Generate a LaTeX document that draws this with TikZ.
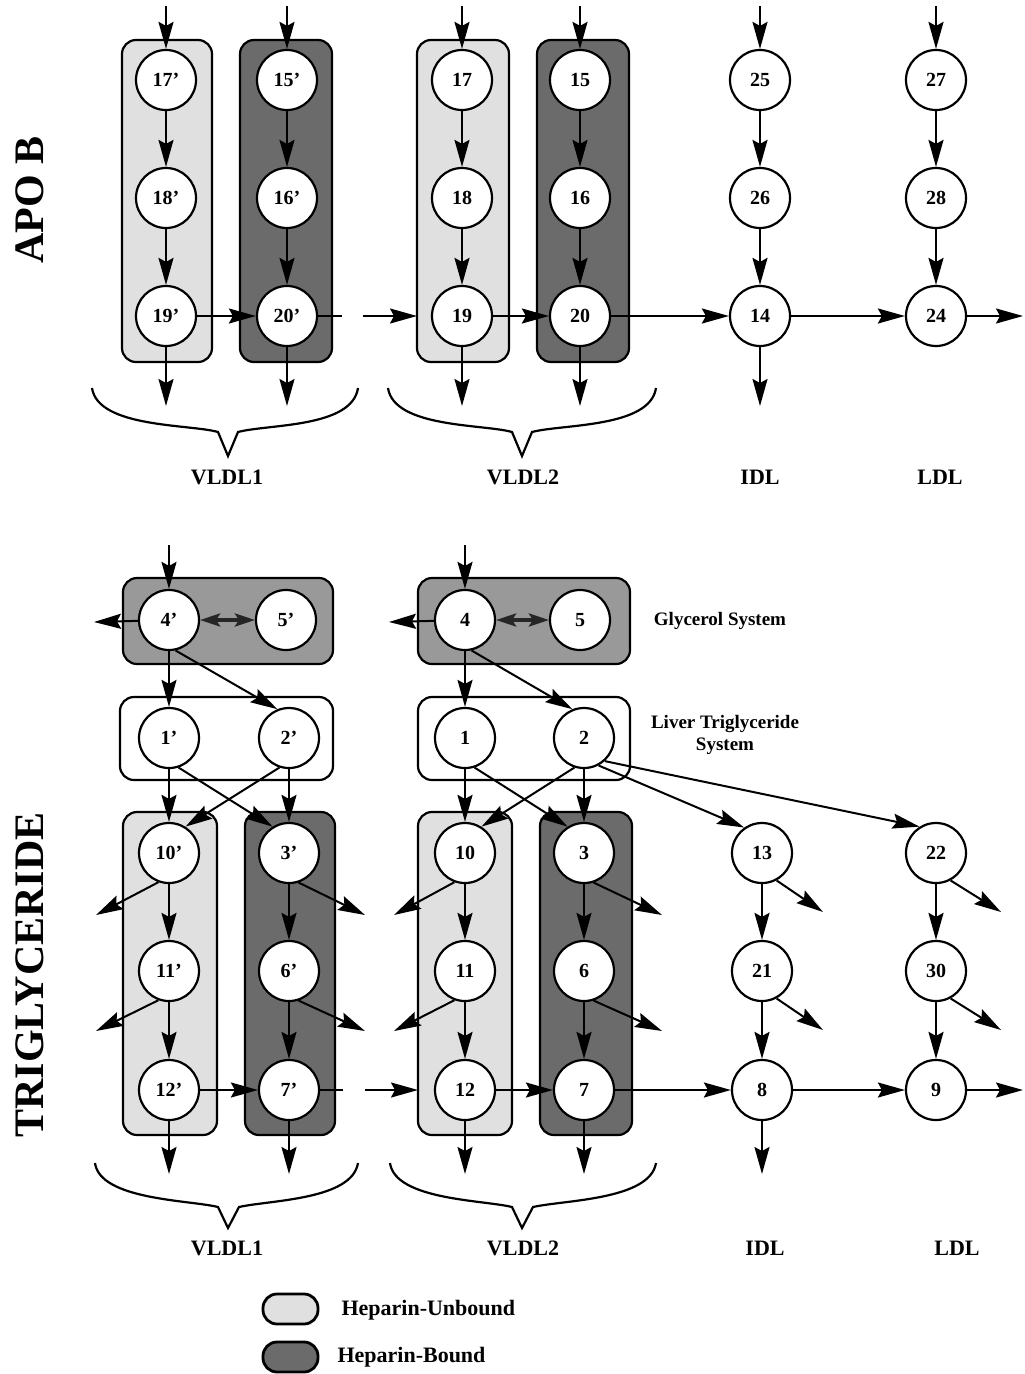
\documentclass[tikz,border=0pt]{standalone}
\usepackage{fontspec}
\setmainfont{Liberation Serif}
\usetikzlibrary{arrows.meta}
\begin{document}
\begin{tikzpicture}[x=1pt,y=-1pt,
 cnode/.style={circle,draw,line width=2.2pt,fill=white,minimum size=60pt,inner sep=0pt,font=\fontsize{20}{22}\selectfont\bfseries},
 arr/.style={line width=2pt,-{Stealth[length=27pt,width=15pt,inset=4pt]}},
 dbl/.style={line width=3.4pt,{Stealth[length=20pt,width=13pt,inset=4pt]}-{Stealth[length=20pt,width=13pt,inset=4pt]},black!85},
 ln/.style={line width=2pt},
 ubox/.style={draw,line width=2.2pt,rounded corners=14pt,fill=black!12},
 bbox/.style={draw,line width=2.2pt,rounded corners=14pt,fill=black!58},
 gbox/.style={draw,line width=2.2pt,rounded corners=14pt,fill=black!40},
 wbox/.style={draw,line width=2.2pt,rounded corners=14pt},
 bracepath/.style={line width=2.2pt},
 lab/.style={font=\fontsize{22}{25}\selectfont\bfseries},
 syslab/.style={font=\fontsize{19}{22}\selectfont\bfseries,align=center},
 leglab/.style={font=\fontsize{22}{25}\selectfont\bfseries,anchor=west},
 title/.style={rotate=90,font=\fontsize{42}{46}\selectfont\bfseries}]
\useasboundingbox (0,0) rectangle (1025,1374);

% ---------- titles ----------
\node[title] (tA) at (30,200) {APO B};
\node[title] (tT) at (30,975) {TRIGLYCERIDE};

% ---------- APO B boxes ----------
\draw[ubox] (122,40) rectangle (212,362);
\draw[bbox] (240,40) rectangle (332,362);
\draw[ubox] (417,40) rectangle (509,362);
\draw[bbox] (537,40) rectangle (629,362);

% ---------- APO B nodes ----------
\node[cnode] (n17p) at (166,80) {17'};
\node[cnode] (n18p) at (166,198) {18'};
\node[cnode] (n19p) at (166,316) {19'};
\node[cnode] (n15p) at (287,80) {15'};
\node[cnode] (n16p) at (287,198) {16'};
\node[cnode] (n20p) at (287,316) {20'};
\node[cnode] (n17) at (462,80) {17};
\node[cnode] (n18) at (462,198) {18};
\node[cnode] (n19) at (462,316) {19};
\node[cnode] (n15) at (580,80) {15};
\node[cnode] (n16) at (580,198) {16};
\node[cnode] (n20) at (580,316) {20};
\node[cnode] (n25) at (760,80) {25};
\node[cnode] (n26) at (760,198) {26};
\node[cnode] (n14) at (760,316) {14};
\node[cnode] (n27) at (936,80) {27};
\node[cnode] (n28) at (936,198) {28};
\node[cnode] (n24) at (936,316) {24};

% inputs / outputs
\foreach \n/\x in {17p/166,15p/287,17/462,15/580,25/760,27/936}{
  \coordinate (in\n) at (\x,6);
  \draw[arr] (in\n) -- (n\n);
}
\foreach \n/\x in {19p/166,20p/287,19/462,20/580,14/760}{
  \coordinate (out\n) at (\x,406);
  \draw[arr] (n\n) -- (out\n);
}
\foreach \a/\b in {17p/18p,18p/19p,15p/16p,16p/20p,17/18,18/19,15/16,16/20,25/26,26/14,27/28,28/24,19p/20p,19/20,20/14,14/24}{
  \draw[arr] (n\a) -- (n\b);
}
\coordinate (out24) at (1023,316);
\draw[arr] (n24) -- (out24);
% broken link 20' -> 19
\coordinate (bA1) at (342,316);
\coordinate (bA4) at (363,316);
\coordinate (bA5) at (417,316);
\draw[ln] (n20p.east) -- (bA1);
\draw[arr] (bA4) -- (bA5);

% braces top
\draw[bracepath] (92,388) .. controls (98,428) and (190,424) .. (218,432) -- (228,456) -- (238,432) .. controls (268,424) and (352,428) .. (358,388);
\draw[bracepath] (388,388) .. controls (394,428) and (484,424) .. (512,432) -- (522,456) -- (532,432) .. controls (562,424) and (650,428) .. (656,388);
\node[lab] (lv1) at (227,477) {VLDL1};
\node[lab] (lv2) at (523,477) {VLDL2};
\node[lab] (lidl) at (760,477) {IDL};
\node[lab] (lldl) at (940,477) {LDL};

% ---------- Triglyceride boxes ----------
\draw[gbox] (123,578) rectangle (333,664);
\draw[gbox] (418,578) rectangle (630,664);
\draw[wbox] (120,697) rectangle (333,780);
\draw[wbox] (418,697) rectangle (630,780);
\draw[ubox] (123,812) rectangle (217,1135);
\draw[bbox] (245,812) rectangle (335,1135);
\draw[ubox] (418,812) rectangle (512,1135);
\draw[bbox] (540,812) rectangle (632,1135);

\node[syslab] (gsys) at (720,621) {Glycerol System};
\node[syslab] (lsys) at (725,735) {Liver Triglyceride\\System};

% ---------- Triglyceride nodes ----------
\node[cnode] (n4p) at (169,620) {4'};
\node[cnode] (n5p) at (286,620) {5'};
\node[cnode] (n4) at (465,620) {4};
\node[cnode] (n5) at (580,620) {5};
\node[cnode] (n1p) at (169,738) {1'};
\node[cnode] (n2p) at (289,738) {2'};
\node[cnode] (n1) at (465,738) {1};
\node[cnode] (n2) at (584,738) {2};
\node[cnode] (n10p) at (169,853) {10'};
\node[cnode] (n3p) at (289,853) {3'};
\node[cnode] (n10) at (465,853) {10};
\node[cnode] (n3) at (584,853) {3};
\node[cnode] (n13) at (762,853) {13};
\node[cnode] (n22) at (936,853) {22};
\node[cnode] (n11p) at (169,971) {11'};
\node[cnode] (n6p) at (289,971) {6'};
\node[cnode] (n11) at (465,971) {11};
\node[cnode] (n6) at (584,971) {6};
\node[cnode] (n21) at (762,971) {21};
\node[cnode] (n30) at (936,971) {30};
\node[cnode] (n12p) at (169,1090) {12'};
\node[cnode] (n7p) at (289,1090) {7'};
\node[cnode] (n12) at (465,1090) {12};
\node[cnode] (n7) at (584,1090) {7};
\node[cnode] (n8) at (762,1090) {8};
\node[cnode] (n9) at (936,1090) {9};

% inputs
\coordinate (in4p) at (169,545);
\coordinate (in4) at (465,545);
\draw[arr] (in4p) -- (n4p);
\draw[arr] (in4) -- (n4);
% left outputs of glycerol
\coordinate (lo4p) at (94,622);
\coordinate (lo4) at (389,622);
\draw[arr] (n4p) -- (lo4p);
\draw[arr] (n4) -- (lo4);
% exchange
\draw[dbl] (n4p) -- (n5p);
\draw[dbl] (n4) -- (n5);
% glycerol -> liver
\draw[arr] (n4p) -- (n1p);
\draw[arr] (n4p.-78) -- (n2p.112);
\draw[arr] (n4) -- (n1);
\draw[arr] (n4.-78) -- (n2.112);
% liver -> columns
\draw[arr] (n1p) -- (n10p);
\draw[arr] (n2p) -- (n3p);
\draw[arr] (n1p.-72) -- (n3p.122);
\draw[arr] (n2p.-108) -- (n10p.58);
\draw[arr] (n1) -- (n10);
\draw[arr] (n2) -- (n3);
\draw[arr] (n1.-72) -- (n3.122);
\draw[arr] (n2.-108) -- (n10.58);
\draw[arr] (n2.-62) -- (n13.125);
\draw[arr] (n2.-48) -- (n22.122);
% column chains
\foreach \a/\b in {10p/11p,11p/12p,3p/6p,6p/7p,10/11,11/12,3/6,6/7,13/21,21/8,22/30,30/9,12p/7p,12/7,7/8,8/9}{
  \draw[arr] (n\a) -- (n\b);
}
% diagonal outputs
\foreach \n/\x/\y/\ang in {10p/96/915/-110,11p/96/1031/-110,10/394/915/-110,11/394/1031/-110}{
  \coordinate (d\n) at (\x,\y);
  \draw[arr] (n\n.\ang) -- (d\n);
}
\foreach \n/\x/\y/\ang in {3p/365/915/-72,6p/365/1031/-72,3/662/915/-72,6/662/1031/-72,13/823/912/-62,21/823/1030/-62,22/1001/912/-62,30/1001/1030/-62}{
  \coordinate (d\n) at (\x,\y);
  \draw[arr] (n\n.\ang) -- (d\n);
}
% bottom outputs
\foreach \n/\x in {12p/169,7p/289,12/465,7/584,8/762}{
  \coordinate (bo\n) at (\x,1174);
  \draw[arr] (n\n) -- (bo\n);
}
\coordinate (out9) at (1023,1090);
\draw[arr] (n9) -- (out9);
% broken link 7' -> 12
\coordinate (bB1) at (343,1090);
\coordinate (bB4) at (365,1090);
\coordinate (bB5) at (418,1090);
\draw[ln] (n7p.east) -- (bB1);
\draw[arr] (bB4) -- (bB5);

% braces bottom
\draw[bracepath] (95,1163) .. controls (100,1200) and (190,1200) .. (218,1207) -- (228,1228) -- (239,1207) .. controls (270,1200) and (352,1200) .. (358,1163);
\draw[bracepath] (390,1163) .. controls (395,1200) and (484,1200) .. (512,1207) -- (522,1228) -- (533,1207) .. controls (564,1200) and (650,1200) .. (656,1163);
\node[lab] (lv1b) at (227,1248) {VLDL1};
\node[lab] (lv2b) at (523,1248) {VLDL2};
\node[lab] (lidlb) at (765,1248) {IDL};
\node[lab] (lldlb) at (957,1248) {LDL};

% ---------- legend ----------
\draw[ubox,rounded corners=14pt,line width=2.8pt] (263,1294) rectangle (318,1324);
\draw[bbox,rounded corners=14pt,line width=2.8pt] (263,1342) rectangle (318,1372);
\node[leglab] (lgu) at (338,1310) {Heparin-Unbound};
\node[leglab] (lgb) at (334,1357) {Heparin-Bound};
\end{tikzpicture}
\end{document}
